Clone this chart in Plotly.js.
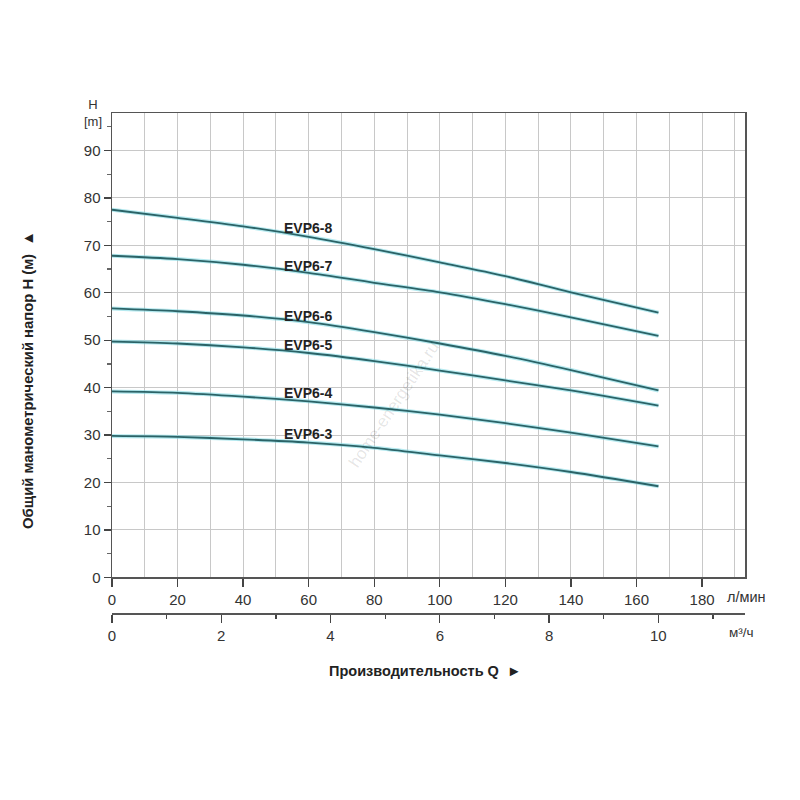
<!DOCTYPE html>
<html>
<head>
<meta charset="utf-8">
<script src="https://cdn.plot.ly/plotly-3.0.1.min.js"></script>
<style>html,body{margin:0;padding:0;background:#fff;} #chart{width:800px;height:800px;}</style>
</head>
<body>
<div id="chart"></div>
<script>
// Flow, l/min
const flow = [0, 20, 40, 60, 80, 100, 120, 140, 166.7];
// Head, m
const evp6_8 = [77.5, 75.8, 74.0, 71.8, 69.2, 66.4, 63.5, 60.1, 55.8];
const evp6_7 = [67.8, 67.1, 65.9, 64.2, 62.1, 60.1, 57.6, 54.8, 50.9];
const evp6_6 = [56.7, 56.1, 55.2, 53.8, 51.7, 49.3, 46.7, 43.7, 39.4];
const evp6_5 = [49.7, 49.3, 48.5, 47.3, 45.6, 43.6, 41.5, 39.4, 36.2];
const evp6_4 = [39.2, 38.9, 38.1, 37.1, 35.8, 34.3, 32.5, 30.5, 27.6];
const evp6_3 = [29.8, 29.6, 29.1, 28.4, 27.3, 25.7, 24.1, 22.2, 19.2];
const seriesNames = ["EVP6-8", "EVP6-7", "EVP6-6", "EVP6-5", "EVP6-4", "EVP6-3"];
const seriesVals = [evp6_8, evp6_7, evp6_6, evp6_5, evp6_4, evp6_3];
// Label anchor positions (l/min, m)
const labelX = [52, 52, 52, 52, 52, 52];
const labelY = [73.7, 65.7, 55.2, 48.9, 38.9, 30.3];
// Axis ticks
const lpmTicks = [0, 20, 40, 60, 80, 100, 120, 140, 160, 180];
const m3hTicks = [0, 2, 4, 6, 8, 10];
const hTicks = [0, 10, 20, 30, 40, 50, 60, 70, 80, 90];
const LPM_PER_M3H = 1000 / 60;

const FONT = "Liberation Sans, Arial, sans-serif";
const traces = [];
seriesVals.forEach((vals, i) => {
  traces.push({
    x: flow, y: vals, type: "scatter", mode: "lines",
    line: {shape: "spline", smoothing: 0.8, color: "rgba(120,215,225,0.55)", width: 4},
    hoverinfo: "skip", showlegend: false
  });
  traces.push({
    x: flow, y: vals, type: "scatter", mode: "lines", name: seriesNames[i],
    line: {shape: "spline", smoothing: 0.8, color: "#2b6367", width: 1.8},
    showlegend: false
  });
});
// invisible trace to carry the m³/h axis
traces.push({
  x: flow.map(q => q / LPM_PER_M3H), y: evp6_3, xaxis: "x2", yaxis: "y",
  type: "scatter", mode: "lines", line: {width: 0, color: "rgba(0,0,0,0)"},
  hoverinfo: "skip", showlegend: false
});

const annotations = seriesNames.map((n, i) => ({
  x: labelX[i], y: labelY[i], xref: "x", yref: "y", text: "<b>" + n + "</b>",
  showarrow: false, xanchor: "left", yanchor: "middle",
  font: {family: FONT, size: 14, color: "#222"}
}));
annotations.push(
  {xref: "paper", yref: "paper", x: -0.03, y: 1.0, text: "H<br>[m]", showarrow: false,
   xanchor: "center", yanchor: "middle", align: "center",
   font: {family: FONT, size: 13, color: "#333"}},
  {xref: "paper", yref: "paper", x: 1.0, y: 0.0714, text: "л/мин", showarrow: false,
   xanchor: "left", yanchor: "top", xshift: -20, yshift: -10,
   font: {family: FONT, size: 14.5, color: "#333"}},
  {xref: "paper", yref: "paper", x: 1.0, y: 0, text: "м³/ч", showarrow: false,
   xanchor: "left", yanchor: "top", xshift: -18, yshift: -10,
   font: {family: FONT, size: 13.5, color: "#333"}},
  {xref: "paper", yref: "paper", x: 0.494, y: 0, text: "<b>Производительность Q  ►</b>", showarrow: false,
   xanchor: "center", yanchor: "middle", yshift: -58,
   font: {family: FONT, size: 14.5, color: "#222"}},
  {xref: "paper", yref: "paper", x: 0, y: 0.466, text: "<b>Общий манометрический напор H (м)  ▲</b>", showarrow: false,
   xanchor: "center", yanchor: "middle", xshift: -84, textangle: -90,
   font: {family: FONT, size: 14.8, color: "#222"}},
  {xref: "x", yref: "y", x: 86, y: 36.5, text: "home-energetika.ru", showarrow: false,
   textangle: -56, font: {family: FONT, size: 17, color: "rgba(0,0,0,0.11)"}}
);

const layout = {
  width: 800, height: 800,
  paper_bgcolor: "#fff", plot_bgcolor: "#fff",
  margin: {l: 112, r: 55, t: 113, b: 187},
  showlegend: false,
  xaxis: {
    range: [0, 193.1], anchor: "y", tickvals: lpmTicks, ticks: "outside", ticklen: 8,
    tickcolor: "#444", tickwidth: 1.3,
    showgrid: true, gridcolor: "#c8c8c8", gridwidth: 1,
    minor: {dtick: 10, tick0: 0, showgrid: true, gridcolor: "#c8c8c8", gridwidth: 1, ticks: ""},
    showline: true, linecolor: "#555", linewidth: 1.5, mirror: true,
    zeroline: false, tickfont: {family: FONT, size: 15, color: "#333"}, ticklabelstandoff: 0
  },
  xaxis2: {
    range: [0, 193.1 / LPM_PER_M3H], overlaying: "x", anchor: "free", position: 0, side: "bottom",
    tickvals: m3hTicks, ticks: "outside", ticklen: 8, tickcolor: "#444", tickwidth: 1.3,
    minor: {dtick: 1, tick0: 0, ticks: "outside", ticklen: 4, tickcolor: "#444", showgrid: false},
    showgrid: false, showline: true, linecolor: "#555", linewidth: 1.5, zeroline: false,
    tickfont: {family: FONT, size: 15, color: "#333"}
  },
  yaxis: {
    range: [0, 97.9], domain: [0.0714, 1], tickvals: hTicks, ticks: "outside", ticklen: 7,
    tickcolor: "#444", tickwidth: 1.3,
    minor: {dtick: 5, tick0: 0, ticks: "outside", ticklen: 4, tickcolor: "#666", showgrid: false},
    showgrid: true, gridcolor: "#c8c8c8", gridwidth: 1,
    showline: true, linecolor: "#555", linewidth: 1.5, mirror: true,
    zeroline: false, tickfont: {family: FONT, size: 15, color: "#333"}
  },
  annotations: annotations
};

Plotly.newPlot("chart", traces, layout, {staticPlot: true, displayModeBar: false});
</script>
</body>
</html>
